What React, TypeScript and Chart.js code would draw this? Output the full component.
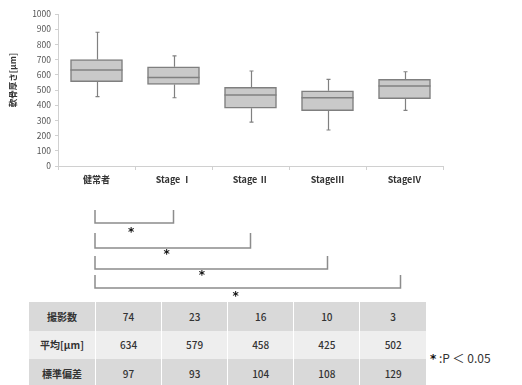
import React, { useEffect, useRef } from "react";
import { Chart, registerables } from "chart.js";

Chart.register(...registerables);

const categories = ["健常者", "Stage Ⅰ", "Stage Ⅱ", "StageⅢ", "StageⅣ"];
const whiskerMin = [456, 449, 289, 237, 366];
const q1 = [555, 537, 380, 364, 443];
const median = [632, 583, 467, 449, 526];
const q3 = [700, 653, 518, 495, 570];
const whiskerMax = [880, 724, 625, 570, 620];
const yMin = 0;
const yMax = 1000;
const yStep = 100;
const yTitle = "軟骨厚さ[μm]";

const comparisons: [number, number][] = [
  [0, 1],
  [0, 2],
  [0, 3],
  [0, 4],
];
const sigMark = "*";

const rowLabels = ["撮影数", "平均[μm]", "標準偏差"];
const counts = [74, 23, 16, 10, 3];
const means = [634, 579, 458, 425, 502];
const sds = [97, 93, 104, 108, 129];
const noteMark = "*";
const noteText = " :P ＜ 0.05";

const FONT = "'Noto Sans CJK JP', 'Noto Sans', sans-serif";
const STAR_FONT = "'DejaVu Sans', sans-serif";

const boxPlugin = {
  id: "boxExtras",
  afterDatasetsDraw(chart: any) {
    const ctx = chart.ctx;
    const x = chart.scales.x;
    const y = chart.scales.y;
    ctx.save();
    ctx.strokeStyle = "#808080";
    ctx.lineWidth = 1.2;
    categories.forEach((_, i) => {
      const cx = Math.round(x.getPixelForValue(i)) + 0.5;
      const yMaxP = y.getPixelForValue(whiskerMax[i]);
      const yQ3 = y.getPixelForValue(q3[i]);
      const yQ1 = y.getPixelForValue(q1[i]);
      const yMinP = y.getPixelForValue(whiskerMin[i]);
      ctx.beginPath();
      ctx.moveTo(cx, yMaxP);
      ctx.lineTo(cx, yQ3);
      ctx.moveTo(cx, yQ1);
      ctx.lineTo(cx, yMinP);
      ctx.moveTo(cx - 2, yMaxP);
      ctx.lineTo(cx + 2, yMaxP);
      ctx.moveTo(cx - 2, yMinP);
      ctx.lineTo(cx + 2, yMinP);
      ctx.stroke();
      const meta = chart.getDatasetMeta(0).data[i];
      const half = meta.width / 2;
      const ym = y.getPixelForValue(median[i]);
      ctx.lineWidth = 1.5;
      ctx.beginPath();
      ctx.moveTo(meta.x - half, ym);
      ctx.lineTo(meta.x + half, ym);
      ctx.stroke();
      ctx.lineWidth = 1.2;
    });

    ctx.fillStyle = "#333333";
    ctx.font = `bold 8.5px ${FONT}`;
    ctx.textAlign = "center";
    ctx.textBaseline = "middle";
    ctx.translate(13, 80);
    ctx.rotate(-Math.PI / 2);
    ctx.fillText(yTitle, 0, 0);
    ctx.restore();

    ctx.save();
    ctx.strokeStyle = "#8c8c8c";
    ctx.lineWidth = 1.5;
    const tops = [210, 233, 256, 275];
    const heights = [13, 15, 13, 13];
    const starYs = [231, 253, 274, 295];
    comparisons.forEach(([a, b], k) => {
      const xa = x.getPixelForValue(a) - 1.5;
      const xb = x.getPixelForValue(b) - (b === 4 ? 4 : 0);
      const t = tops[k];
      const bt = t + heights[k];
      ctx.beginPath();
      ctx.moveTo(xa, t);
      ctx.lineTo(xa, bt);
      ctx.lineTo(xb, bt);
      ctx.lineTo(xb, t);
      ctx.stroke();
      ctx.fillStyle = "#111111";
      ctx.font = `bold 12px ${STAR_FONT}`;
      ctx.textAlign = "center";
      ctx.textBaseline = "middle";
      ctx.fillText(sigMark, xa + (xb - xa) * 0.46, starYs[k] + 2);
    });
    ctx.restore();
  },
};

export default function App() {
  const ref = useRef<HTMLCanvasElement>(null);
  useEffect(() => {
    if (!ref.current) return;
    const chart = new Chart(ref.current, {
      type: "bar",
      data: {
        labels: categories,
        datasets: [
          {
            data: categories.map((_, i) => [q1[i], q3[i]]) as any,
            backgroundColor: "#c9c9c9",
            borderColor: "#7f7f7f",
            borderWidth: 1.5,
            borderSkipped: false,
            barThickness: 52,
          },
        ],
      },
      options: {
        responsive: false,
        animation: false,
        devicePixelRatio: 1,
        layout: { padding: { top: 14, right: 79, left: 0, bottom: 0 } },
        plugins: {
          legend: { display: false },
          tooltip: { enabled: false },
        },
        scales: {
          x: {
            grid: {
              display: true,
              drawOnChartArea: false,
              offset: true,
              tickLength: 4,
              color: "#d0d0d0",
            },
            border: { color: "#d0d0d0" },
            ticks: {
              color: "#333333",
              font: { family: FONT, size: 9, weight: "bold" },
              padding: 4,
            },
            afterFit(scale: any) {
              scale.height = 134;
            },
          },
          y: {
            min: yMin,
            max: yMax,
            grid: {
              display: true,
              drawOnChartArea: false,
              tickLength: 3,
              color: "#d0d0d0",
            },
            border: { color: "#d0d0d0" },
            ticks: {
              stepSize: yStep,
              color: "#555555",
              font: { family: FONT, size: 8.5 },
              padding: 4,
              callback: (v: any) => String(v),
            },
            afterFit(scale: any) {
              scale.width = 58;
            },
          },
        },
      },
      plugins: [boxPlugin],
    });
    return () => chart.destroy();
  }, []);

  const rows = [counts, means, sds];
  const rowBg = ["#d9d9d9", "#eeeeee", "#d9d9d9"];

  return (
    <div
      style={{
        position: "fixed",
        left: 0,
        top: 0,
        width: 522,
        height: 385,
        background: "#ffffff",
        overflow: "hidden",
        fontFamily: FONT,
      }}
    >
      <canvas ref={ref} width={522} height={300} style={{ position: "absolute", left: 0, top: 0 }} />
      <table
        style={{
          position: "absolute",
          left: 29,
          top: 302,
          width: 397,
          borderCollapse: "collapse",
          tableLayout: "fixed",
          fontSize: 10,
          color: "#333333",
        }}
      >
        <tbody>
          {rows.map((vals, r) => (
            <tr key={r} style={{ height: 28.5, background: rowBg[r] }}>
              <td
                style={{
                  width: 66,
                  textAlign: "center",
                  padding: 0,
                  borderRight: "1px solid #ffffff",
                  fontWeight: "bold",
                  whiteSpace: "nowrap",
                }}
              >
                {rowLabels[r]}
              </td>
              {vals.map((v, c) => (
                <td
                  key={c}
                  style={{
                    textAlign: "center",
                    padding: 0,
                    fontWeight: 500,
                    borderRight: c < vals.length - 1 ? "1px solid #ffffff" : "none",
                  }}
                >
                  {v}
                </td>
              ))}
            </tr>
          ))}
        </tbody>
      </table>
      <div
        style={{
          position: "absolute",
          left: 430,
          top: 349,
          fontSize: 12,
          color: "#333333",
          whiteSpace: "nowrap",
        }}
      >
        <span style={{ fontFamily: STAR_FONT, fontWeight: "bold", color: "#111111" }}>{noteMark}</span>
        {noteText}
      </div>
    </div>
  );
}
